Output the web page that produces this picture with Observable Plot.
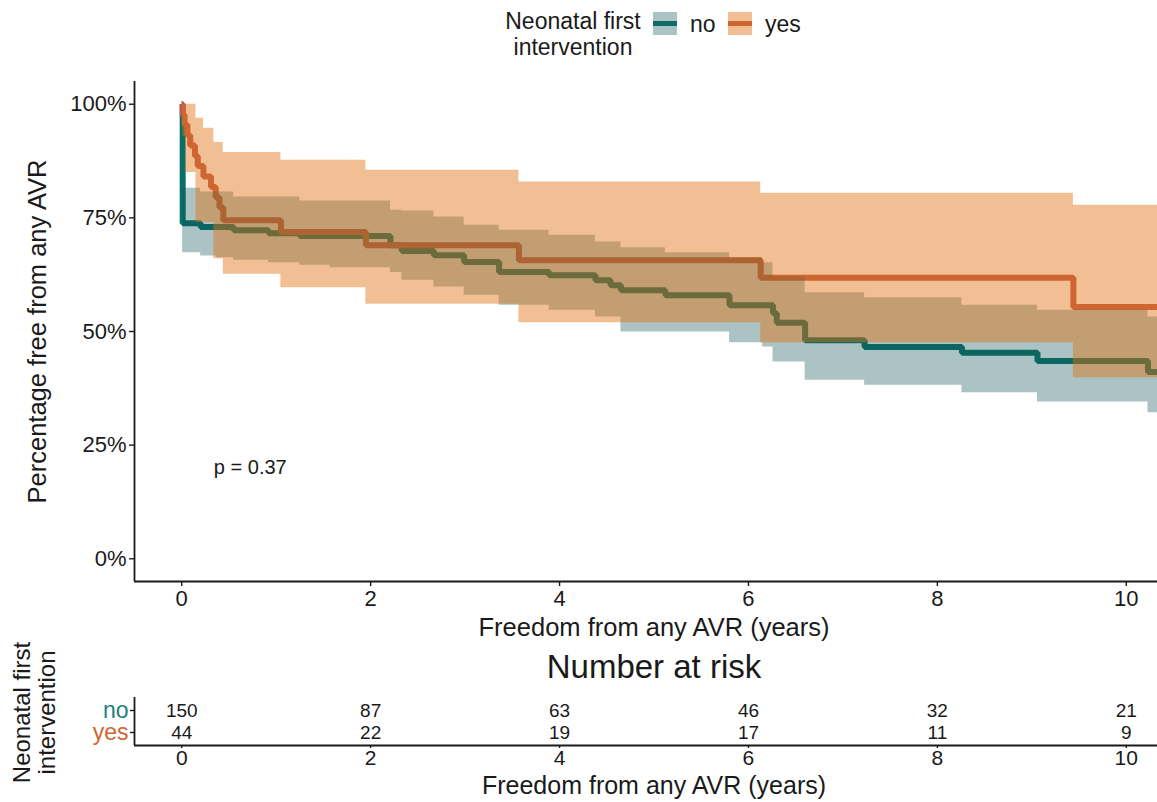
<!DOCTYPE html>
<html>
<head>
<meta charset="utf-8">
<script src="https://cdn.jsdelivr.net/npm/d3@7"></script>
<script src="https://cdn.jsdelivr.net/npm/@observablehq/plot@0.6"></script>
<style>
html, body { margin: 0; padding: 0; background: #fff; overflow: hidden; }
#wrap { position: relative; width: 1157px; height: 802px; overflow: hidden; background: #fff;
  font-family: "Liberation Sans", Arial, sans-serif; color: #1a1a1a; }
#wrap svg { max-width: none !important; }
#risk svg { overflow: visible; }
#main { position: absolute; left: 0; top: 0; }
#risk { position: absolute; left: 0; top: 648px; }
#legend { position: absolute; left: 0; top: 0; width: 1157px; height: 70px; }
.lg-title { position: absolute; left: 473px; top: 8px; width: 200px; text-align: center; font-size: 23px; line-height: 26px; }
.lg-key { position: absolute; top: 12px; width: 24px; height: 23px; }
.lg-key div { position: absolute; left: 0; top: 9px; width: 24px; height: 5px; }
.lg-lab { position: absolute; top: 10px; font-size: 23px; line-height: 28px; }
</style>
</head>
<body>
<div id="wrap">
  <div id="main"></div>
  <div id="risk"></div>
  <div id="legend"></div>
</div>
<script>
// ---------------- data ----------------
const groups = ["no", "yes"];
const legendTitle = "Neonatal first\nintervention";
const xTitle = "Freedom from any AVR (years)";
const yTitle = "Percentage free from any AVR";
const riskTitle = "Number at risk";
const pLabel = "p = 0.37";
const pCoord = [0.34, 0.2];

// group "no" (not neonatal first intervention): Kaplan-Meier estimate and 95% CI
const noTime  = [0, 0.01, 0.20, 0.37, 0.55, 0.92, 1.25, 1.57, 2.21, 2.33, 2.67, 2.99, 3.36, 3.89, 4.38, 4.54, 4.65, 5.12, 5.80, 6.15, 6.26, 6.30, 6.60, 7.23, 8.26, 9.06, 10.23, 10.4];
const noSurv  = [1, 0.738, 0.730, 0.730, 0.723, 0.716, 0.710, 0.710, 0.690, 0.677, 0.668, 0.653, 0.631, 0.624, 0.613, 0.602, 0.591, 0.580, 0.558, 0.558, 0.540, 0.519, 0.481, 0.466, 0.453, 0.435, 0.411, 0.411];
const noUpper = [1, 0.815, 0.807, 0.807, 0.796, 0.796, 0.787, 0.787, 0.767, 0.765, 0.752, 0.734, 0.723, 0.712, 0.697, 0.697, 0.684, 0.673, 0.662, 0.651, 0.620, 0.620, 0.585, 0.574, 0.558, 0.547, 0.532, 0.532];
const noLower = [1, 0.673, 0.666, 0.662, 0.657, 0.651, 0.646, 0.640, 0.630, 0.613, 0.598, 0.580, 0.558, 0.547, 0.532, 0.532, 0.499, 0.499, 0.475, 0.466, 0.433, 0.433, 0.393, 0.382, 0.365, 0.345, 0.321, 0.321];

// group "yes" (neonatal first intervention)
const yesTime  = [0, 0.01, 0.03, 0.04, 0.06, 0.09, 0.14, 0.15, 0.17, 0.23, 0.31, 0.34, 0.36, 0.40, 0.44, 1.05, 1.95, 3.57, 6.13, 9.44, 10.4];
const yesSurv  = [1, 0.977, 0.955, 0.955, 0.932, 0.909, 0.886, 0.886, 0.864, 0.841, 0.818, 0.818, 0.795, 0.773, 0.745, 0.719, 0.690, 0.657, 0.618, 0.554, 0.554];
const yesUpper = [1, 1, 1, 1, 1, 1, 1, 0.969, 0.969, 0.947, 0.947, 0.916, 0.916, 0.916, 0.894, 0.877, 0.855, 0.829, 0.804, 0.778, 0.778];
const yesLower = [1, 0.93, 0.93, 0.85, 0.85, 0.85, 0.85, 0.74, 0.74, 0.74, 0.74, 0.66, 0.66, 0.66, 0.626, 0.596, 0.560, 0.519, 0.475, 0.398, 0.398];

// number at risk table
const riskTimes = [0, 2, 4, 6, 8, 10];
const riskNo    = [150, 87, 63, 46, 32, 21];
const riskYes   = [44, 22, 19, 17, 11, 9];

const xTicks = [0, 2, 4, 6, 8, 10];
const yTicks = [0, 0.25, 0.5, 0.75, 1];

// ---------------- styles ----------------
const FONT = '"Liberation Sans", Arial, sans-serif';
const INK = "#1a1a1a";
const lineCol   = {no: "#087068", yes: "#c15b4b"};
const ribbonCol = {no: "#125459", yes: "#e0710f"};
const ribbonOp  = {no: 0.35, yes: 0.45};
const keyFill   = {no: "#acc3c5", yes: "#f1bf93"};
const keyLine   = {no: "#0e6b66", yes: "#cf6530"};
const labelCol  = {no: "#1f7f7a", yes: "#cf6530"};

// ---------------- tables ----------------
const survNo  = noTime.map((t, i) => ({time: t, surv: noSurv[i], lower: noLower[i], upper: noUpper[i]}));
const survYes = yesTime.map((t, i) => ({time: t, surv: yesSurv[i], lower: yesLower[i], upper: yesUpper[i]}));
const rowIndex = {no: 1, yes: 0};
const riskTable = riskTimes.flatMap((t, i) => [
  {group: "no", row: rowIndex.no, time: t, n: riskNo[i]},
  {group: "yes", row: rowIndex.yes, time: t, n: riskYes[i]}
]);
const rowLabels = groups.map(g => ({group: g, row: rowIndex[g]}));

const xDomain = [-0.5, 10.5];

// ---------------- main plot ----------------
const stepOpts = {curve: "step-after", strokeWidth: 6, strokeLinejoin: "miter", strokeLinecap: "butt"};
const main = Plot.plot({
  width: 1173, height: 648,
  marginTop: 81, marginBottom: 67, marginLeft: 134, marginRight: 0,
  style: {fontFamily: FONT, color: INK, background: "white", maxWidth: "none"},
  x: {domain: xDomain},
  y: {domain: [-0.05, 1.05]},
  marks: [
    Plot.line(survNo,  {x: "time", y: "surv", stroke: lineCol.no,  ...stepOpts}),
    Plot.line(survYes, {x: "time", y: "surv", stroke: lineCol.yes, ...stepOpts}),
    Plot.areaY(survNo,  {x: "time", y1: "lower", y2: "upper", curve: "step-after", fill: ribbonCol.no,  fillOpacity: ribbonOp.no}),
    Plot.areaY(survYes, {x: "time", y1: "lower", y2: "upper", curve: "step-after", fill: ribbonCol.yes, fillOpacity: ribbonOp.yes}),
    Plot.ruleY([-0.05], {stroke: INK, strokeWidth: 1.8}),
    Plot.ruleX([-0.5], {stroke: INK, strokeWidth: 1.8}),
    Plot.axisX({ticks: xTicks, tickSize: 5, tickPadding: 4, fontSize: 22, label: null, strokeWidth: 1.4}),
    Plot.axisY({ticks: yTicks, tickFormat: d3.format(".0%"), tickSize: 5, tickPadding: 3, fontSize: 22, label: null, strokeWidth: 1.4}),
    Plot.text([xTitle], {text: d => d, frameAnchor: "bottom", lineAnchor: "middle", textAnchor: "middle", dy: 46, fontSize: 25.5}),
    Plot.text([yTitle], {text: d => d, frameAnchor: "left", lineAnchor: "middle", textAnchor: "middle", dx: -97, rotate: -90, fontSize: 25.5}),
    Plot.text([{label: pLabel, t: pCoord[0], s: pCoord[1]}], {x: "t", y: "s", text: "label", textAnchor: "start", fontSize: 20})
  ]
});
document.getElementById("main").appendChild(main);

// ---------------- risk table ----------------
const risk = Plot.plot({
  width: 1173, height: 154,
  marginTop: 49, marginBottom: 57, marginLeft: 134, marginRight: 0,
  style: {fontFamily: FONT, color: INK, background: "white", maxWidth: "none", overflow: "visible"},
  x: {domain: xDomain},
  y: {domain: [-0.59, 1.59]},
  marks: [
    Plot.text(riskTable, {x: "time", y: "row", text: "n", fontSize: 19}),
    Plot.ruleY([-0.59], {stroke: INK, strokeWidth: 1.8}),
    Plot.ruleX([-0.5], {stroke: INK, strokeWidth: 1.8}),
    Plot.axisX({ticks: xTicks, tickSize: 3, tickPadding: 2, fontSize: 21, label: null, strokeWidth: 1.4}),
    Plot.axisY({ticks: [0, 1], tickFormat: () => "", tickSize: 4, label: null, strokeWidth: 1.4}),
    Plot.text(rowLabels.filter(d => d.group === "no"),  {y: "row", text: "group", frameAnchor: "left", lineAnchor: "middle", dx: -6, textAnchor: "end", fill: labelCol.no,  fontSize: 23}),
    Plot.text(rowLabels.filter(d => d.group === "yes"), {y: "row", text: "group", frameAnchor: "left", lineAnchor: "middle", dx: -6, textAnchor: "end", fill: labelCol.yes, fontSize: 23}),
    Plot.text([riskTitle], {text: d => d, frameAnchor: "top", lineAnchor: "middle", textAnchor: "middle", dy: -30, fontSize: 33}),
    Plot.text([xTitle], {text: d => d, frameAnchor: "bottom", lineAnchor: "middle", textAnchor: "middle", dy: 40, fontSize: 25}),
    Plot.text([legendTitle], {text: d => d, frameAnchor: "left", lineAnchor: "middle", textAnchor: "middle", dx: -100, dy: -9, rotate: -90, fontSize: 24, lineHeight: 1.05})
  ]
});
document.getElementById("risk").appendChild(risk);

// ---------------- legend ----------------
const legend = document.getElementById("legend");
const t = document.createElement("div");
t.className = "lg-title";
t.innerHTML = legendTitle.split("\n").join("<br>");
legend.appendChild(t);
const keyPos = {no: [653, 690], yes: [728, 765]};
groups.forEach(g => {
  const k = document.createElement("div");
  k.className = "lg-key";
  k.style.left = keyPos[g][0] + "px";
  k.style.background = keyFill[g];
  const ln = document.createElement("div");
  ln.style.background = keyLine[g];
  k.appendChild(ln);
  legend.appendChild(k);
  const lab = document.createElement("div");
  lab.className = "lg-lab";
  lab.style.left = keyPos[g][1] + "px";
  lab.textContent = g;
  legend.appendChild(lab);
});
</script>
</body>
</html>
